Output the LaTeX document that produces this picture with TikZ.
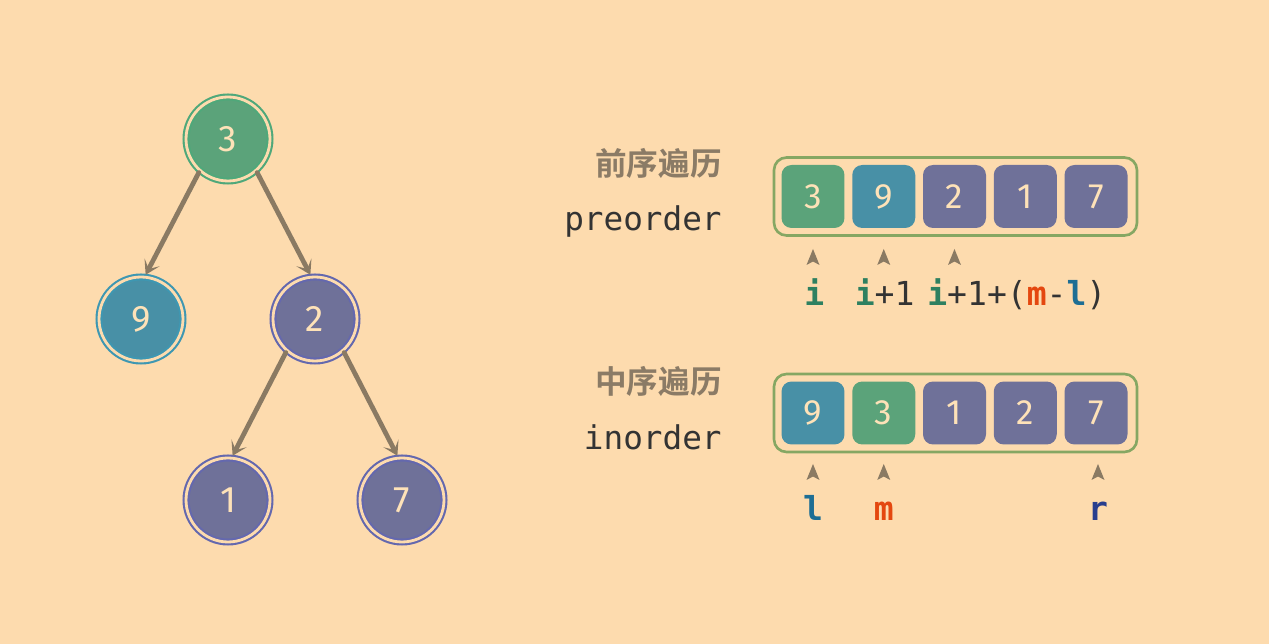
\documentclass[tikz,border=0pt]{standalone}
\usepackage{fontspec}
\setmonofont{DejaVu Sans Mono}
\newfontfamily\digitfont{Fira Sans}
\newfontfamily\cjk{Noto Sans CJK SC}[BoldFont={Noto Sans CJK SC Bold}]
\usetikzlibrary{arrows.meta}
\definecolor{bg}{HTML}{FDDBAE}
\definecolor{cgreen}{HTML}{5BA37A}
\definecolor{cgreenring}{HTML}{4FA87A}
\definecolor{cteal}{HTML}{4890A6}
\definecolor{ctealring}{HTML}{3E97B2}
\definecolor{cpurple}{HTML}{6F7199}
\definecolor{cpurplering}{HTML}{6468AE}
\definecolor{cream}{HTML}{FEE2B8}
\definecolor{edgec}{HTML}{8A7A63}
\definecolor{boxc}{HTML}{86A763}
\definecolor{labc}{HTML}{8B7B66}
\definecolor{darkt}{HTML}{333333}
\definecolor{ci}{HTML}{2E8060}
\definecolor{cm}{HTML}{E4470F}
\definecolor{cl}{HTML}{1E6E94}
\definecolor{cr}{HTML}{283E8E}
\tikzset{
  tnode/.style={circle, inner sep=0pt, minimum size=1.68cm, outer sep=0.05cm,
    line width=1.2pt, double=bg, double distance=1.6pt,
    text=cream, font=\digitfont\fontsize{21pt}{21pt}\selectfont},
  gnode/.style={tnode, fill=cgreen, draw=cgreenring},
  bnode/.style={tnode, fill=cteal, draw=ctealring},
  pnode/.style={tnode, fill=cpurple, draw=cpurplering},
  tedge/.style={draw=edgec, line width=2.7pt, line cap=round,
    -{Stealth[length=0.28cm, width=0.34cm, inset=0.15cm]}},
  outbox/.style={draw=boxc, line width=1.5pt, rounded corners=0.25cm,
    minimum width=7.26cm, minimum height=1.56cm, inner sep=0pt},
  cell/.style={rounded corners=0.2cm, minimum width=1.26cm, minimum height=1.26cm,
    inner sep=0pt, text=cream, font=\digitfont\fontsize{20pt}{20pt}\selectfont},
  gcell/.style={cell, fill=cgreen},
  bcell/.style={cell, fill=cteal},
  pcell/.style={cell, fill=cpurple},
  cnlabel/.style={anchor=east, text=labc, font=\cjk\bfseries\fontsize{18pt}{18pt}\selectfont, inner sep=0pt},
  enlabel/.style={anchor=east, text=darkt, font=\ttfamily\fontsize{18.6pt}{18.6pt}\selectfont, inner sep=0pt},
  ilabel/.style={anchor=base west, text=darkt, font=\ttfamily\fontsize{18.8pt}{18.8pt}\selectfont, inner sep=0pt},
  clabel/.style={anchor=base, font=\ttfamily\bfseries\fontsize{18.8pt}{18.8pt}\selectfont, inner sep=0pt},
  caret/.pic={\fill[edgec] (0,-9) -- (6.5,7) -- (0,3.5) -- (-6.5,7) -- cycle;}
}
\begin{document}
\begin{tikzpicture}[x=0.02cm, y=-0.02cm]
\fill[bg] (0,0) rectangle (1269,644);
\useasboundingbox (0,0) rectangle (1269,644);
% tree
\node[gnode] (n3) at (228,139) {3};
\node[bnode] (n9) at (141,319) {9};
\node[pnode] (n2) at (315,319) {2};
\node[pnode] (n1) at (228,500) {1};
\node[pnode] (n7) at (402,500) {7};
\draw[tedge] (n3.229) -- (n9.84);
\draw[tedge] (n3.311) -- (n2.96);
\draw[tedge] (n2.229) -- (n1.84);
\draw[tedge] (n2.311) -- (n7.96);
% labels
\node[cnlabel] (lpre) at (722,163) {前序遍历};
\node[enlabel] (epre) at (722,221) {preorder};
\node[cnlabel] (lin) at (722,381) {中序遍历};
\node[enlabel] (ein) at (722,437) {inorder};
% preorder array
\node[outbox] (pbox) at (955.5,196.5) {};
\node[gcell] (p1) at (813,196.5) {3};
\node[bcell] (p2) at (883.75,196.5) {9};
\node[pcell] (p3) at (954.5,196.5) {2};
\node[pcell] (p4) at (1025.25,196.5) {1};
\node[pcell] (p5) at (1096,196.5) {7};
% inorder array
\node[outbox] (ibox) at (955.5,413) {};
\node[bcell] (q1) at (813,413) {9};
\node[gcell] (q2) at (883.75,413) {3};
\node[pcell] (q3) at (954.5,413) {1};
\node[pcell] (q4) at (1025.25,413) {2};
\node[pcell] (q5) at (1096,413) {7};
% carets
\pic at (813,258) {caret};
\pic at (883.75,258) {caret};
\pic at (954.5,258) {caret};
\pic at (813,473) {caret};
\pic at (883.75,473) {caret};
\pic at (1098,473) {caret};
% preorder index labels
\node[ilabel] (a1) at (804,306) {\textbf{\color{ci}i}};
\node[ilabel] (a2) at (854.5,306) {\textbf{\color{ci}i}+1};
\node[ilabel] (a3) at (927,306) {\textbf{\color{ci}i}+1+(\textbf{\color{cm}m}-\textbf{\color{cl}l})};
% inorder index labels
\node[clabel, text=cl] (b1) at (813,521) {l};
\node[clabel, text=cm] (b2) at (883.75,521) {m};
\node[clabel, text=cr] (b3) at (1098,521) {r};
\end{tikzpicture}
\end{document}
